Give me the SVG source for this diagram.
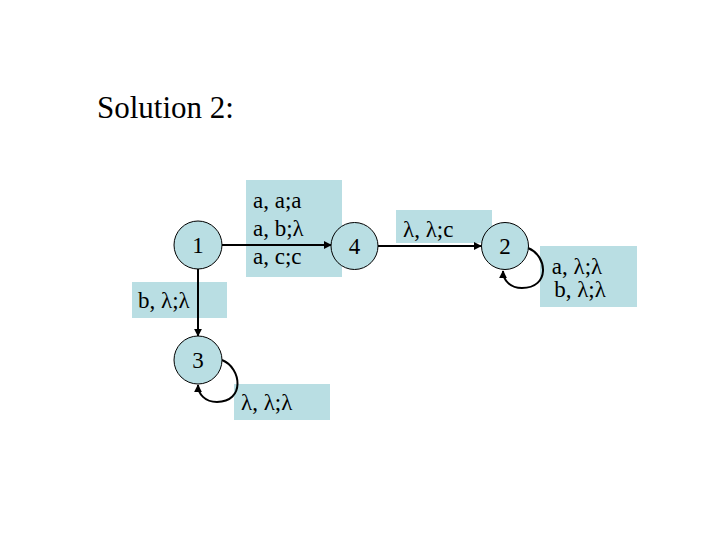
<svg xmlns="http://www.w3.org/2000/svg" width="720" height="540" viewBox="0 0 720 540">
<style>
text{font-family:"Liberation Serif","Times New Roman",serif;fill:#000}
.lbl{font-size:23px}
.box{fill:#B9DEE3}
.node{fill:#B9DEE3;stroke:#000;stroke-width:1}
.edge{fill:none;stroke:#000;stroke-width:2;marker-end:url(#ah)}
</style>
<defs>
<marker id="ah" viewBox="0 0 10 10" refX="9" refY="5" markerWidth="4" markerHeight="4" orient="auto" markerUnits="strokeWidth">
<path d="M0,0 L10,5 L0,10 Z" fill="#000"/>
</marker>
</defs>
<rect width="720" height="540" fill="#fff"/>
<text x="97" y="118" font-size="31">Solution 2:</text>
<g id="labels">
<rect class="box" x="246" y="180" width="96" height="97"/>
<text class="lbl" x="253" y="208">a, a;a</text>
<text class="lbl" x="253" y="236">a, b;λ</text>
<text class="lbl" x="253" y="264">a, c;c</text>
<rect class="box" x="396" y="210" width="96" height="33"/>
<text class="lbl" x="403" y="237">λ, λ;c</text>
<rect class="box" x="540" y="246" width="97" height="61"/>
<text class="lbl" x="577" y="274" text-anchor="middle">a, λ;λ</text>
<text class="lbl" x="580" y="297" text-anchor="middle">b, λ;λ</text>
<rect class="box" x="132" y="282" width="95" height="36"/>
<text class="lbl" x="138" y="308">b, λ;λ</text>
<rect class="box" x="234" y="384" width="96" height="36"/>
<text class="lbl" x="241" y="410">λ, λ;λ</text>
</g>
<g id="connectors">
<path class="edge" d="M222,245 L331,245"/>
<path class="edge" d="M378,246 L481,246"/>
<path class="edge" d="M198,269 L198,336"/>
<path class="edge" d="M528,248 C548,256 550,288 522,288 C510,288 503,280 503,271"/>
<path class="edge" d="M222,360 C242,368 245,402 217,402 C205,402 198,394 198,385"/>
</g>
<g id="n1"><circle class="node" cx="198" cy="245" r="24"/><text class="lbl" x="198" y="253" text-anchor="middle">1</text></g>
<g id="n4"><circle class="node" cx="354.5" cy="246" r="23.5"/><text class="lbl" x="354.5" y="254" text-anchor="middle">4</text></g>
<g id="n2"><circle class="node" cx="505" cy="246" r="23.5"/><text class="lbl" x="505" y="254" text-anchor="middle">2</text></g>
<g id="n3"><circle class="node" cx="198" cy="360" r="24"/><text class="lbl" x="198" y="368" text-anchor="middle">3</text></g>
</svg>
